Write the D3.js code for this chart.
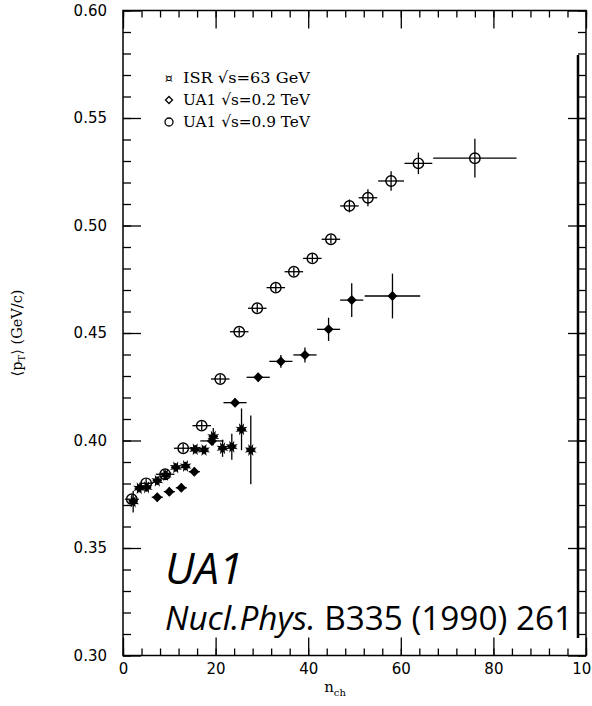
<!DOCTYPE html>
<html>
<head>
<meta charset="utf-8">
<script src="https://cdn.jsdelivr.net/npm/d3@7"></script>
<style>
  body { margin: 0; background: #fff; }
  svg { display: block; }
</style>
</head>
<body>
<div id="chart"></div>
<script>
// [n_ch, <pT>, dn, dpT]
const ua1_09 = [
  [1.9, 0.3727, 1.5, 0.002], [5.0, 0.3801, 1.5, 0.002], [9.1, 0.3843, 2, 0.002],
  [13.0, 0.3964, 2, 0.002], [17.0, 0.4069, 2, 0.002], [21.0, 0.4286, 2, 0.002],
  [25.1, 0.4506, 2, 0.002], [29.0, 0.4615, 2, 0.002], [33.0, 0.4711, 2, 0.002],
  [36.9, 0.4785, 2, 0.002], [40.9, 0.4847, 2, 0.002], [44.9, 0.4936, 2, 0.002],
  [48.9, 0.5091, 2, 0.003], [52.9, 0.5129, 2, 0.004], [57.9, 0.5207, 2.8, 0.0045],
  [63.8, 0.5289, 3, 0.005], [76.0, 0.5313, 9, 0.009]
];
const ua1_02 = [
  [7.4, 0.3736, 1.2, 0.002], [10.0, 0.3762, 1.2, 0.002], [12.6, 0.3780, 1.2, 0.002],
  [15.4, 0.3855, 1.2, 0.002], [19.2, 0.3998, 2.5, 0.002], [24.2, 0.4176, 2.5, 0.002],
  [29.2, 0.4294, 2.5, 0.002], [34.1, 0.4368, 2.5, 0.003], [39.3, 0.4398, 2.5, 0.0035],
  [44.4, 0.4517, 2.5, 0.0054], [49.4, 0.4653, 2.5, 0.0078], [58.2, 0.4672, 6, 0.0104]
];
const isr63 = [
  [2.2, 0.3715, 1, 0.005], [3.5, 0.3778, 1, 0.002], [5.1, 0.3782, 1, 0.002],
  [7.4, 0.3813, 1, 0.002], [9.2, 0.3840, 1, 0.002], [11.4, 0.3875, 1, 0.002],
  [13.5, 0.3881, 1, 0.002], [15.6, 0.3959, 1, 0.002], [17.5, 0.3956, 1, 0.002],
  [19.5, 0.4018, 1, 0.004], [21.5, 0.3964, 1, 0.004], [23.5, 0.3971, 1, 0.006],
  [25.6, 0.4052, 1, 0.0097], [27.6, 0.3956, 1, 0.016]
];

const xMajor = [0, 20, 40, 60, 80, 100];
const xMinor = d3.range(0, 101, 4);
const yMajor = [0.30, 0.35, 0.40, 0.45, 0.50, 0.55, 0.60];
const yMinor = d3.range(30, 61, 1).map(d => d / 100);

const legendLabels = ["ISR  \u221As=63 GeV", "UA1  \u221As=0.2 TeV", "UA1  \u221As=0.9 TeV"];

const W = 592, H = 706;
const svg = d3.select("#chart").append("svg")
  .attr("width", W).attr("height", H);

const x = d3.scaleLinear().domain([0, 100]).range([123, 586]);
const y = d3.scaleLinear().domain([0.30, 0.60]).range([655.5, 10.5]);

const tickFont = "'DejaVu Sans', Verdana, sans-serif";
const serif = "'DejaVu Serif', 'Liberation Serif', serif";

// frame + ticks
function styleAxis(g) {
  g.select(".domain").remove();
  g.selectAll("line").attr("stroke", "#000").attr("stroke-width", 1.3);
  g.selectAll("text").attr("fill", "#000").style("font-family", tickFont).style("font-size", "15px");
}

svg.append("g").attr("transform", `translate(0,${y(0.30)})`)
  .call(d3.axisBottom(x).tickValues(xMinor).tickSize(-7).tickFormat("")).call(styleAxis);
svg.append("g").attr("transform", `translate(0,${y(0.30)})`)
  .call(d3.axisBottom(x).tickValues(xMajor).tickSize(-18).tickPadding(8).tickFormat(d3.format("d"))).call(styleAxis);
svg.append("g").attr("transform", `translate(0,${y(0.60)})`)
  .call(d3.axisTop(x).tickValues(xMinor).tickSize(-7).tickFormat("")).call(styleAxis);
svg.append("g").attr("transform", `translate(0,${y(0.60)})`)
  .call(d3.axisTop(x).tickValues(xMajor).tickSize(-18).tickFormat("")).call(styleAxis);

svg.append("g").attr("transform", `translate(${x(0)},0)`)
  .call(d3.axisLeft(y).tickValues(yMinor).tickSize(-8).tickFormat("")).call(styleAxis);
svg.append("g").attr("transform", `translate(${x(0)},0)`)
  .call(d3.axisLeft(y).tickValues(yMajor).tickSize(-18).tickPadding(16).tickFormat(d3.format(".2f"))).call(styleAxis);
svg.append("g").attr("transform", `translate(${x(100)},0)`)
  .call(d3.axisRight(y).tickValues(yMinor).tickSize(-8).tickFormat("")).call(styleAxis);
svg.append("g").attr("transform", `translate(${x(100)},0)`)
  .call(d3.axisRight(y).tickValues(yMajor).tickSize(-18).tickFormat("")).call(styleAxis);

svg.append("rect")
  .attr("x", x(0)).attr("y", y(0.60))
  .attr("width", x(100) - x(0)).attr("height", y(0.30) - y(0.60))
  .attr("fill", "none").attr("stroke", "#000").attr("stroke-width", 1.5);

// thick vertical line near the right edge
svg.append("line")
  .attr("x1", 578).attr("x2", 578).attr("y1", 55).attr("y2", 638)
  .attr("stroke", "#000").attr("stroke-width", 2.5);

// error bars
function errorBars(data) {
  const g = svg.append("g").attr("stroke", "#000").attr("stroke-width", 1.3);
  g.selectAll(".h").data(data).enter().append("line")
    .attr("x1", d => x(d[0] - d[2])).attr("x2", d => x(d[0] + d[2]))
    .attr("y1", d => y(d[1])).attr("y2", d => y(d[1]));
  g.selectAll(".v").data(data).enter().append("line")
    .attr("x1", d => x(d[0])).attr("x2", d => x(d[0]))
    .attr("y1", d => y(d[1] - d[3])).attr("y2", d => y(d[1] + d[3]));
}
errorBars(isr63);
errorBars(ua1_02);
errorBars(ua1_09);

// star path for ISR points
function starPath(ro, ri, n) {
  const pts = [];
  for (let i = 0; i < 2 * n; i++) {
    const r = i % 2 ? ri : ro;
    const a = Math.PI * i / n;
    pts.push([r * Math.cos(a), r * Math.sin(a)]);
  }
  return "M" + pts.map(p => p.join(",")).join("L") + "Z";
}
const diamond = r => `M0,${-r}L${r},0L0,${r}L${-r},0Z`;

svg.append("g").selectAll("path").data(isr63).enter().append("path")
  .attr("transform", d => `translate(${x(d[0])},${y(d[1])}) rotate(22.5)`)
  .attr("d", starPath(6.5, 3, 8))
  .attr("fill", "#000");

svg.append("g").selectAll("path").data(ua1_02).enter().append("path")
  .attr("transform", d => `translate(${x(d[0])},${y(d[1])})`)
  .attr("d", diamond(5))
  .attr("fill", "#000");

svg.append("g").selectAll("circle").data(ua1_09).enter().append("circle")
  .attr("cx", d => x(d[0])).attr("cy", d => y(d[1])).attr("r", 5.2)
  .attr("fill", "none").attr("stroke", "#000").attr("stroke-width", 1.4);

// legend
const legendY = [78, 100, 122];
const lg = svg.append("g");
lg.append("text").attr("x", 169).attr("y", legendY[0]).attr("dy", "0.35em")
  .attr("text-anchor", "middle").style("font-family", serif).style("font-size", "13px").text("\u00A4");
lg.append("path").attr("transform", `translate(169,${legendY[1]})`)
  .attr("d", diamond(3.5))
  .attr("fill", "none").attr("stroke", "#000").attr("stroke-width", 1.3);
lg.append("circle").attr("cx", 169).attr("cy", legendY[2]).attr("r", 4)
  .attr("fill", "none").attr("stroke", "#000").attr("stroke-width", 1.3);
lg.selectAll(".lt").data(legendLabels).enter().append("text")
  .attr("x", 183).attr("y", (d, i) => legendY[i]).attr("dy", "0.35em")
  .attr("textLength", 127).attr("lengthAdjust", "spacingAndGlyphs")
  .style("font-family", serif).style("font-size", "15.5px").text(d => d);

// axis titles
const xt = svg.append("text").attr("x", 335).attr("y", 692)
  .attr("text-anchor", "middle").style("font-family", serif).style("font-size", "15px");
xt.append("tspan").text("n");
xt.append("tspan").attr("dy", 4).style("font-size", "10px").text("ch");

const yt = svg.append("text")
  .attr("transform", "translate(22,333) rotate(-90)")
  .attr("text-anchor", "middle").style("font-family", serif).style("font-size", "14.5px");
yt.append("tspan").text("\u27E8p");
yt.append("tspan").attr("dy", 3).style("font-size", "10px").text("T");
yt.append("tspan").attr("dy", -3).text("\u27E9 (GeV/c)");

// annotation
svg.append("text").attr("x", 165).attr("y", 584)
  .attr("textLength", 78).attr("lengthAdjust", "spacingAndGlyphs")
  .style("font-family", "'Open Sans', 'Noto Sans', sans-serif").style("font-style", "italic")
  .style("font-size", "44px").text("UA1");

const ref = svg.append("text").attr("x", 165).attr("y", 630)
  .attr("textLength", 408).attr("lengthAdjust", "spacingAndGlyphs")
  .style("font-family", "'Open Sans', 'Noto Sans', sans-serif").style("font-size", "33px");
ref.append("tspan").style("font-style", "italic").text("Nucl.Phys.");
ref.append("tspan").text(" B335 (1990) 261");
</script>
</body>
</html>
